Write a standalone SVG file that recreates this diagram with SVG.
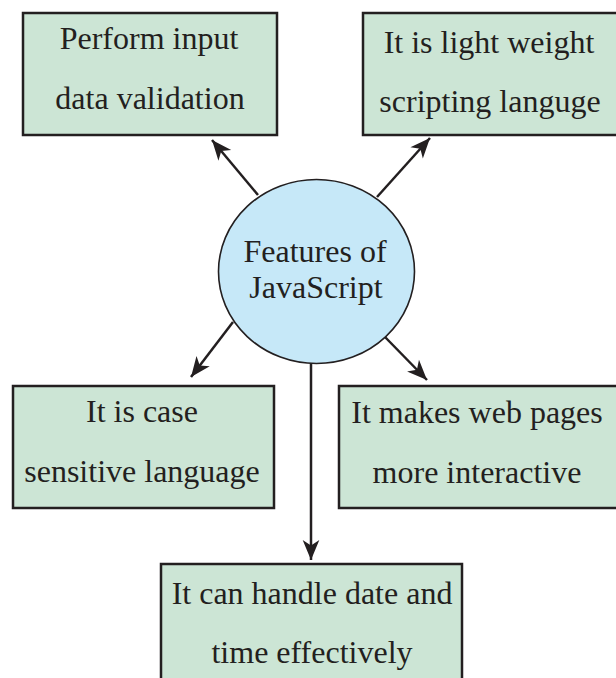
<svg xmlns="http://www.w3.org/2000/svg" width="616" height="678" viewBox="0 0 616 678">
<style>
.box{fill:#cce5d5;stroke:#231f20;stroke-width:2.5}
.hub{fill:#c6e8f8;stroke:#231f20;stroke-width:1.6}
.t{font-family:"Liberation Serif","Times New Roman",serif;font-size:32px;fill:#231f20;text-anchor:middle}
.c{stroke:#231f20;stroke-width:2.5;fill:none;marker-end:url(#ah)}
</style>
<defs>
<marker id="ah" markerUnits="userSpaceOnUse" markerWidth="24" markerHeight="20" viewBox="-19 -9 21 18" refX="0" refY="0" orient="auto">
<path d="M0,0 L-18,-7.5 L-13,0 L-18,7.5 Z" fill="#231f20"/>
</marker>
</defs>
<g id="connectors">
<line class="c" x1="258" y1="195" x2="212" y2="140"/>
<line class="c" x1="377" y1="197" x2="430" y2="138"/>
<line class="c" x1="233" y1="322" x2="191" y2="377"/>
<line class="c" x1="385" y1="337" x2="427" y2="380"/>
<line class="c" x1="311" y1="362" x2="311" y2="560"/>
</g>
<g id="hub">
<ellipse class="hub" cx="316.5" cy="271.5" rx="98" ry="92"/>
<text class="t" x="315" y="262">Features of</text>
<text class="t" x="316" y="298">JavaScript</text>
</g>
<g id="n1">
<rect class="box" x="23" y="13" width="254" height="122"/>
<text class="t" x="149" y="49">Perform input</text>
<text class="t" x="150" y="109">data validation</text>
</g>
<g id="n2">
<rect class="box" x="363" y="13" width="260" height="122"/>
<text class="t" x="489" y="53">It is light weight</text>
<text class="t" x="490" y="112">scripting languge</text>
</g>
<g id="n3">
<rect class="box" x="13" y="386" width="261" height="122"/>
<text class="t" x="142" y="422">It is case</text>
<text class="t" x="142" y="482">sensitive language</text>
</g>
<g id="n4">
<rect class="box" x="339" y="386" width="284" height="122"/>
<text class="t" x="477" y="423">It makes web pages</text>
<text class="t" x="477" y="483">more interactive</text>
</g>
<g id="n5">
<rect class="box" x="161" y="564" width="301" height="124"/>
<text class="t" x="312" y="604">It can handle date and</text>
<text class="t" x="312" y="663">time effectively</text>
</g>
</svg>
